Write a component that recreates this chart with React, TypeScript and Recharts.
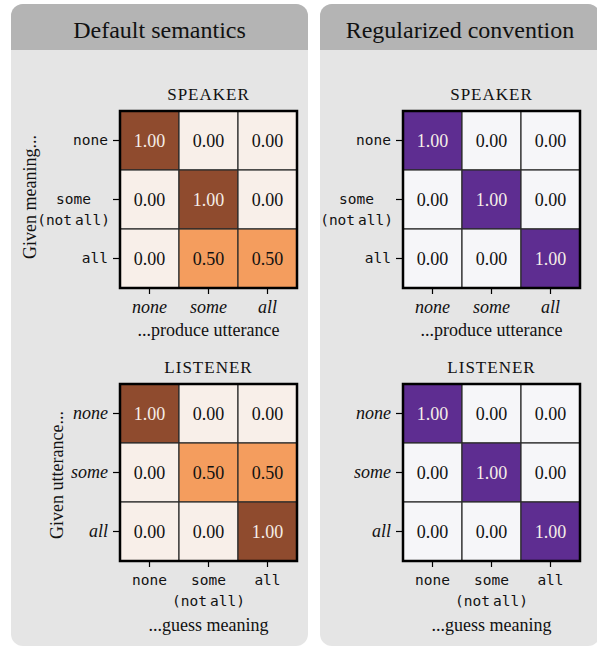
import React from "react";
import {
  ReferenceArea,
  Scatter,
  ScatterChart,
  XAxis,
  YAxis,
} from "recharts";

// labels ("|" splits a label into two lines)
const MEANINGS = ["none", "some|(not all)", "all"];
const UTTERANCES = ["none", "some", "all"];

// probability tables (rows = given, cols = produced / guessed)
const speakerDefault = [
  [1, 0, 0],
  [0, 1, 0],
  [0, 0.5, 0.5],
];
const listenerDefault = [
  [1, 0, 0],
  [0, 0.5, 0.5],
  [0, 0, 1],
];
const speakerRegularized = [
  [1, 0, 0],
  [0, 1, 0],
  [0, 0, 1],
];
const listenerRegularized = [
  [1, 0, 0],
  [0, 1, 0],
  [0, 0, 1],
];

const SERIF = '"Liberation Serif", "Times New Roman", serif';
const MONO = '"DejaVu Sans Mono", monospace';
const MONO_SIZE = 14.5;
const MONO_CH = MONO_SIZE * 0.602;

const ORANGES = { low: "#f8efe9", mid: "#f49d5e", high: "#8f4b2e" };
const PURPLES = { low: "#f6f6f9", mid: "#a08cc4", high: "#5e2d91" };

const GRID = 177;
const YW = 110;
const TM = 4;
const RM = 8;
const XH = 70;

type Palette = typeof ORANGES;

function cellColor(v: number, p: Palette) {
  if (v >= 0.75) return p.high;
  if (v >= 0.25) return p.mid;
  return p.low;
}

function toPoints(matrix: number[][]) {
  const pts: { x: number; y: number; v: number }[] = [];
  matrix.forEach((row, r) =>
    row.forEach((v, c) => pts.push({ x: c, y: r, v }))
  );
  return pts;
}

// mono line; a narrow gap instead of a full space
function MonoLine({ x, y, text }: { x: number; y: number; text: string }) {
  const parts = text.split(" ");
  return (
    <tspan x={x} y={y}>
      {parts.map((pt, i) => (
        <tspan key={i} dx={i > 0 ? 3 : 0}>
          {pt}
        </tspan>
      ))}
    </tspan>
  );
}

function lineWidth(s: string) {
  const parts = s.split(" ");
  return parts.join("").length * MONO_CH + (parts.length - 1) * 3;
}

function TickText({
  x,
  y,
  label,
  mono,
  vertical,
}: {
  x: number;
  y: number;
  label: string;
  mono: boolean;
  vertical: boolean;
}) {
  const lines = label.split("|");
  const style = mono
    ? { fontFamily: MONO, fontSize: MONO_SIZE, fill: "#111" }
    : { fontFamily: SERIF, fontSize: 18, fontStyle: "italic", fill: "#111" };
  const base = vertical ? (mono ? 4 : 5) : mono ? 16 : 17;
  let cx = x;
  let anchor: "end" | "middle" = vertical ? "end" : "middle";
  if (vertical && lines.length > 1 && mono) {
    // block right-aligned, lines centred within it
    const w = Math.max(...lines.map(lineWidth));
    cx = x + 2 - w / 2;
    anchor = "middle";
  }
  return (
    <text x={cx} y={y} textAnchor={anchor} style={style as React.CSSProperties}>
      {lines.map((ln, i) =>
        mono ? (
          <MonoLine key={i} x={cx} y={y + base + i * 21} text={ln} />
        ) : (
          <tspan key={i} x={cx} y={y + base + i * 21}>
            {ln}
          </tspan>
        )
      )}
    </text>
  );
}

function Heatmap({
  left,
  top,
  matrix,
  palette,
  rowLabels,
  colLabels,
  rowMono,
  colMono,
}: {
  left: number;
  top: number;
  matrix: number[][];
  palette: Palette;
  rowLabels: string[];
  colLabels: string[];
  rowMono: boolean;
  colMono: boolean;
}) {
  const half = GRID / 6;
  return (
    <div style={{ position: "absolute", left: left - YW, top: top - TM }}>
      <ScatterChart
        width={YW + GRID + RM}
        height={TM + GRID + XH}
        margin={{ top: TM, right: RM, bottom: 0, left: 0 }}
      >
        <XAxis
          type="number"
          dataKey="x"
          domain={[-0.5, 2.5]}
          ticks={[0, 1, 2]}
          height={XH}
          axisLine={false}
          tickSize={6}
          tickLine={{ stroke: "#000", strokeWidth: 1.2 }}
          tick={(p: any) => (
            <TickText
              x={p.x}
              y={GRID + 8 + TM}
              label={colLabels[p.payload.value]}
              mono={colMono}
              vertical={false}
            />
          )}
        />
        <YAxis
          type="number"
          dataKey="y"
          domain={[-0.5, 2.5]}
          ticks={[0, 1, 2]}
          reversed
          width={YW}
          axisLine={false}
          tickSize={7}
          tickLine={{ stroke: "#000", strokeWidth: 1.2 }}
          tick={(p: any) => (
            <TickText
              x={YW - 12}
              y={p.y}
              label={rowLabels[p.payload.value]}
              mono={rowMono}
              vertical
            />
          )}
        />
        <Scatter
          data={toPoints(matrix)}
          isAnimationActive={false}
          shape={(p: any) => {
            const v = p.payload.v;
            const dark = v >= 0.75;
            return (
              <g>
                <rect
                  x={p.cx - half}
                  y={p.cy - half}
                  width={half * 2}
                  height={half * 2}
                  fill={cellColor(v, palette)}
                  stroke="#2b2b2b"
                  strokeWidth={1.2}
                />
                <text
                  x={p.cx}
                  y={p.cy + 6}
                  textAnchor="middle"
                  style={{
                    fontFamily: SERIF,
                    fontSize: 18,
                    fill: dark ? "#f6eee8" : "#111",
                  }}
                >
                  {v.toFixed(2)}
                </text>
              </g>
            );
          }}
        />
        <ReferenceArea
          x1={-0.5}
          x2={2.5}
          y1={-0.5}
          y2={2.5}
          fill="none"
          fillOpacity={0}
          stroke="#000"
          strokeWidth={2.5}
          zIndex={2000}
        />
      </ScatterChart>
    </div>
  );
}

function Title({ x, y, text }: { x: number; y: number; text: string }) {
  return (
    <div
      style={{
        position: "absolute",
        left: x - 100,
        top: y - 11,
        width: 200,
        textAlign: "center",
        fontFamily: SERIF,
        fontSize: 17,
        letterSpacing: 1,
        lineHeight: "22px",
        color: "#111",
      }}
    >
      {text}
    </div>
  );
}

function AxisTitle({ x, y, text }: { x: number; y: number; text: string }) {
  return (
    <div
      style={{
        position: "absolute",
        left: x - 120,
        top: y - 11,
        width: 240,
        textAlign: "center",
        fontFamily: SERIF,
        fontSize: 18,
        lineHeight: "22px",
        color: "#111",
        whiteSpace: "nowrap",
      }}
    >
      {text}
    </div>
  );
}

function SideTitle({ x, y, text }: { x: number; y: number; text: string }) {
  return (
    <div
      style={{
        position: "absolute",
        left: x - 100,
        top: y - 11,
        width: 200,
        textAlign: "center",
        fontFamily: SERIF,
        fontSize: 18,
        lineHeight: "22px",
        color: "#111",
        whiteSpace: "nowrap",
        transform: "rotate(-90deg)",
      }}
    >
      {text}
    </div>
  );
}

function Panel({
  left,
  width,
  title,
}: {
  left: number;
  width: number;
  title: string;
}) {
  return (
    <div
      style={{
        position: "absolute",
        left,
        top: 4,
        width,
        height: 642,
        background: "#e5e5e5",
        borderRadius: 12,
        overflow: "hidden",
      }}
    >
      <div
        style={{
          height: 46,
          background: "#b4b4b4",
          textAlign: "center",
          fontFamily: SERIF,
          fontSize: 24,
          lineHeight: "52px",
          color: "#111",
          whiteSpace: "nowrap",
        }}
      >
        {title}
      </div>
    </div>
  );
}

export default function App() {
  const gl = 120;
  const gr = 403;
  const sTop = 111;
  const lTop = 384;
  return (
    <div
      style={{
        position: "absolute",
        left: 0,
        top: 0,
        width: 597,
        height: 646,
        background: "#fff",
        overflow: "hidden",
      }}
    >
      <Panel left={11} width={297} title="Default semantics" />
      <Panel left={320} width={280} title="Regularized convention" />

      <Title x={gl + GRID / 2} y={95} text="SPEAKER" />
      <Title x={gr + GRID / 2} y={95} text="SPEAKER" />
      <Title x={gl + GRID / 2} y={368} text="LISTENER" />
      <Title x={gr + GRID / 2} y={368} text="LISTENER" />

      <Heatmap
        left={gl}
        top={sTop}
        matrix={speakerDefault}
        palette={ORANGES}
        rowLabels={MEANINGS}
        colLabels={UTTERANCES}
        rowMono
        colMono={false}
      />
      <Heatmap
        left={gr}
        top={sTop}
        matrix={speakerRegularized}
        palette={PURPLES}
        rowLabels={MEANINGS}
        colLabels={UTTERANCES}
        rowMono
        colMono={false}
      />
      <Heatmap
        left={gl}
        top={lTop}
        matrix={listenerDefault}
        palette={ORANGES}
        rowLabels={UTTERANCES}
        colLabels={MEANINGS}
        rowMono={false}
        colMono
      />
      <Heatmap
        left={gr}
        top={lTop}
        matrix={listenerRegularized}
        palette={PURPLES}
        rowLabels={UTTERANCES}
        colLabels={MEANINGS}
        rowMono={false}
        colMono
      />

      <AxisTitle x={gl + GRID / 2} y={330} text="...produce utterance" />
      <AxisTitle x={gr + GRID / 2} y={330} text="...produce utterance" />
      <AxisTitle x={gl + GRID / 2} y={625} text="...guess meaning" />
      <AxisTitle x={gr + GRID / 2} y={625} text="...guess meaning" />

      <SideTitle x={30} y={197} text="Given meaning..." />
      <SideTitle x={57} y={475} text="Given utterance..." />
    </div>
  );
}
